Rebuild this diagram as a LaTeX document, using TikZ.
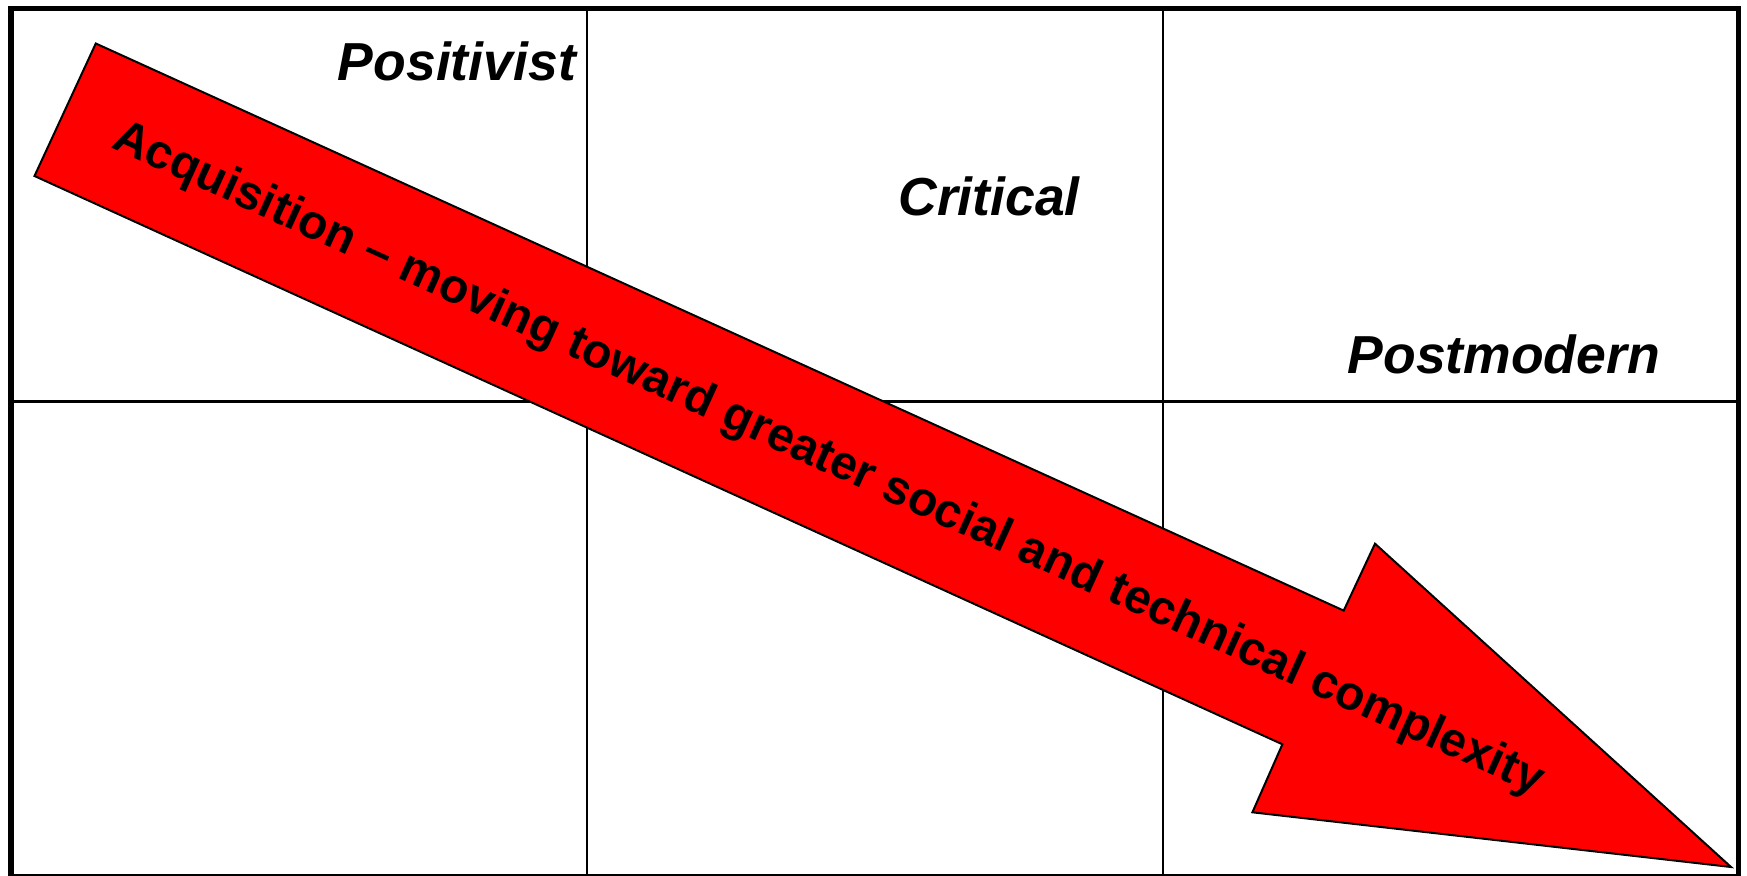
\documentclass[tikz,border=0pt]{standalone}
\usepackage{fontspec}
\setmainfont{Liberation Sans}
\begin{document}
\begin{tikzpicture}[x=1pt,y=-1pt,
  gridline/.style={line width=2.5pt,black},
  frameline/.style={line width=5.5pt,black},
  label/.style={font=\fontsize{53.5}{60}\selectfont\bfseries\itshape,inner sep=0pt,anchor=base east},
  arrowtext/.style={font=\fontsize{48}{56}\selectfont\bfseries,inner sep=0pt,rotate=-24.44}
]
\useasboundingbox (0,0) rectangle (1747,875);
\fill[white] (0,0) rectangle (1747,875);
% grid
\coordinate (vt1) at (587,8); \coordinate (vb1) at (587,877);
\coordinate (vt2) at (1163,8); \coordinate (vb2) at (1163,877);
\coordinate (hl) at (11,401.5); \coordinate (hr) at (1738.5,401.5);
\draw[gridline] (vt1) -- (vb1);
\draw[gridline] (vt2) -- (vb2);
\draw[gridline] (hl) -- (hr);
\draw[frameline] (11,877) -- (11,8.3) -- (1738.5,8.3) -- (1738.5,877) -- cycle;
% labels
\node[label] (pos) at (576,80) {Positivist};
\node[label] (crit) at (1080,215) {Critical};
\node[label] (post) at (1660,373) {Postmodern};
% arrow
\coordinate (t1) at (95.8,43.5);
\coordinate (t2) at (34.5,176);
\coordinate (n2) at (1282.4,744.3);
\coordinate (b2) at (1252.4,812.3);
\coordinate (tip) at (1731,867);
\coordinate (b1) at (1375,543.7);
\coordinate (n1) at (1343.7,610.6);
\draw[line width=2pt,line join=miter,fill={rgb,255:red,255;green,0;blue,0}] (t1) -- (n1) -- (b1) -- (tip) -- (b2) -- (n2) -- (t2) -- cycle;
\node[arrowtext] (atext) at (828,460) {Acquisition – moving toward greater social and technical complexity};
\end{tikzpicture}
\end{document}
